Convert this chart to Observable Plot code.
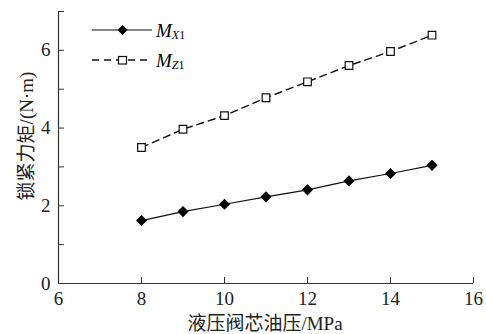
<!DOCTYPE html>
<html><head><meta charset="utf-8">
<script src="https://cdn.jsdelivr.net/npm/d3@7"></script>
<script src="https://cdn.jsdelivr.net/npm/@observablehq/plot@0.6"></script>
<style>
body{margin:0;background:#fff;}
#wrap{position:relative;width:486px;height:334px;font-family:"Liberation Serif","Noto Sans CJK SC",serif;}
#wrap svg text{font-family:"Liberation Serif","Times New Roman",serif;}
#legend{position:absolute;left:90px;top:18px;}
.ylab{position:absolute;left:24px;top:136px;transform:translate(-50%,-50%) rotate(-90deg);white-space:nowrap;font-size:19px;font-family:"Liberation Serif","Noto Sans CJK SC",serif;color:#222;}
.xlab{position:absolute;left:265px;top:321px;transform:translate(-50%,-50%);white-space:nowrap;font-size:19px;font-family:"Liberation Serif","Noto Sans CJK SC",serif;color:#222;}
</style></head>
<body><div id="wrap"></div>
<script>
const pressure = [8, 9, 10, 11, 12, 13, 14, 15];
const mx1 = [1.62, 1.85, 2.04, 2.23, 2.41, 2.64, 2.83, 3.04];
const mz1 = [3.50, 3.97, 4.32, 4.78, 5.19, 5.61, 5.97, 6.39];
const xTicks = [6, 8, 10, 12, 14, 16];
const yTicks = [0, 1, 2, 3, 4, 5, 6, 7];
const yLabels = [0, 2, 4, 6];

const dx = pressure.map((p, i) => ({p, v: mx1[i]}));
const dz = pressure.map((p, i) => ({p, v: mz1[i]}));

const plot = Plot.plot({
  width: 486, height: 334,
  marginLeft: 58, marginRight: 13, marginTop: 11, marginBottom: 51,
  style: {fontFamily: "'Liberation Serif', serif", fontSize: "19px", color: "#222", background: "#fff"},
  x: {domain: [6, 16]},
  y: {domain: [0, 7]},
  marks: [
    Plot.ruleX([6], {stroke: "#333", strokeWidth: 1.2}),
    Plot.ruleY([0], {stroke: "#333", strokeWidth: 1.2}),
    Plot.axisX({ticks: xTicks, tickSize: -6, tickPadding: 14, label: null, stroke: "#333",
      fontSize: 19, fontFamily: "Liberation Serif", fill: "#222"}),
    Plot.axisY({ticks: yTicks, tickSize: -6, tickPadding: 14, label: null, stroke: "#333",
      fontSize: 19, fontFamily: "Liberation Serif", fill: "#222",
      tickFormat: d => yLabels.includes(d) ? String(d) : ""}),
    Plot.line(dx, {x: "p", y: "v", stroke: "#111", strokeWidth: 1.2}),
    Plot.line(dz, {x: "p", y: "v", stroke: "#111", strokeWidth: 1.4, strokeDasharray: "7,5"}),
    Plot.dot(dx, {x: "p", y: "v", symbol: "diamond2", r: 5, fill: "#000", stroke: "none"}),
    Plot.dot(dz, {x: "p", y: "v", symbol: "square", r: 4.3, fill: "#fff", stroke: "#111", strokeWidth: 1.2})
  ]
});
const wrap = document.getElementById("wrap");
wrap.appendChild(plot);

const legend = document.createElement("div");
legend.id = "legend";
legend.innerHTML = `<svg width="120" height="56" style="overflow:visible">
<line x1="2" y1="12" x2="62" y2="12" stroke="#111" stroke-width="1.2"/>
<path d="M32.5,7 L37.5,12 L32.5,17 L27.5,12 Z" fill="#000"/>
<line x1="2" y1="42" x2="62" y2="42" stroke="#111" stroke-width="1.4" stroke-dasharray="7,5"/>
<rect x="28.5" y="38.5" width="8" height="7.5" fill="#fff" stroke="#111" stroke-width="1.2"/>
<text x="66" y="19" font-family="Liberation Serif" font-style="italic" font-size="19">M<tspan font-size="12" dy="2">X</tspan><tspan font-style="normal" font-size="12">1</tspan></text>
<text x="66" y="49" font-family="Liberation Serif" font-style="italic" font-size="19">M<tspan font-size="12" dy="2">Z</tspan><tspan font-style="normal" font-size="12">1</tspan></text>
</svg>`;
wrap.appendChild(legend);

const yl = document.createElement("div"); yl.className = "ylab"; yl.textContent = "锁紧力矩/(N·m)"; wrap.appendChild(yl);
const xl = document.createElement("div"); xl.className = "xlab"; xl.textContent = "液压阀芯油压/MPa"; wrap.appendChild(xl);
</script></body></html>
